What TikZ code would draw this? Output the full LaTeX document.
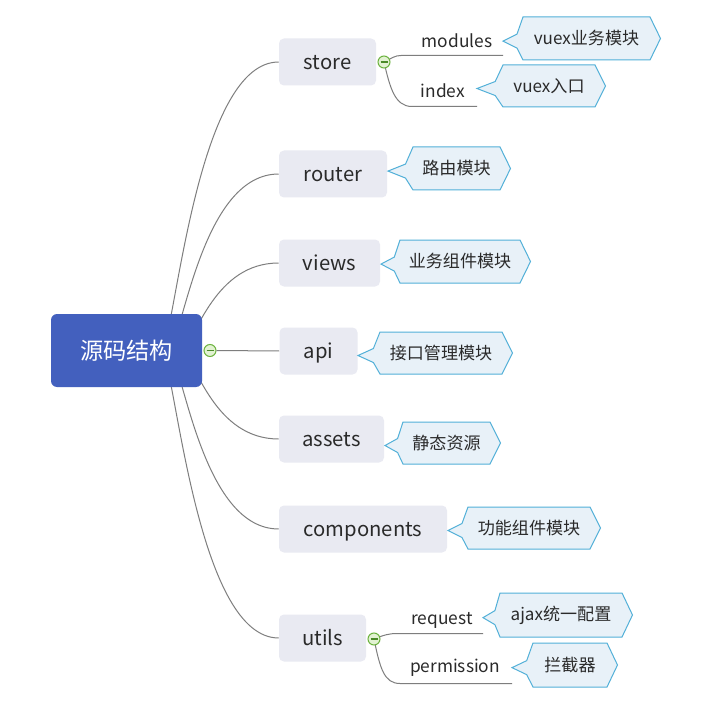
\documentclass[tikz,border=0pt]{standalone}
\usepackage{fontspec}
\setmainfont{Noto Sans CJK SC}
\usetikzlibrary{calc,backgrounds}
\pgfdeclarelayer{paper}
\pgfsetlayers{paper,background,main}
\definecolor{rootblue}{HTML}{4360BE}
\definecolor{childfill}{HTML}{E9EAF2}
\definecolor{callfill}{HTML}{E8F1F8}
\definecolor{calldraw}{HTML}{52B0D8}
\definecolor{linegray}{HTML}{7E7E7E}
\definecolor{txt}{HTML}{2A2A2A}
\definecolor{tggreen}{HTML}{6CB33F}
\definecolor{tgfill}{HTML}{E2F2D2}
\definecolor{tgdark}{HTML}{4A8A28}
\tikzset{
  rootbox/.style={fill=rootblue, rounded corners=4.5pt, minimum width=113.25pt, minimum height=54.75pt, text=white, font=\fontsize{17.4pt}{20pt}\selectfont, inner sep=0pt},
  childbox/.style={fill=childfill, rounded corners=3.75pt, minimum height=35.25pt, text=txt, font=\fontsize{15.2pt}{17pt}\selectfont, inner sep=0pt, text height=12.5pt, text depth=1.5pt},
  branch/.style={draw=linegray, line width=0.75pt},
  callshape/.style={draw=calldraw, fill=callfill, line width=0.75pt, line join=miter},
  calltext/.style={text=txt, font=\fontsize{12.8pt}{15pt}\selectfont, inner sep=0pt},
  sublabel/.style={text=txt, font=\fontsize{13pt}{15pt}\selectfont, inner sep=0pt},
  toggle/.style={circle, draw=tggreen, fill=tgfill, line width=0.75pt, minimum size=9pt, inner sep=0pt},
  minusbar/.style={draw=tgdark, line width=0.8pt},
}
\newcommand\mkcallout[7]{%
  \pgfmathsetmacro\cmid{#4+0.56*(#5-#4)}%
  \pgfmathsetmacro\cnx{#2-0.3*(#2-#6)}%
  \pgfmathsetmacro\cym{(#4+#5)/2}%
  \draw[callshape] (#2,#4) -- (\cnx,\cmid-7) -- (#6,\cmid) -- (\cnx,\cmid+7) -- (#2,#5) -- (#3,#5) -- (#3+10.5,\cym) -- (#3,#4) -- cycle;
  \node[calltext] (#1) at ({(#2+#3)/2},\cym) {#7};
}
\begin{document}
\begin{tikzpicture}[x=0.75pt,y=-0.75pt]
\useasboundingbox (0,0) rectangle (715,710);
\begin{pgfonlayer}{paper}
\fill[white] (0,0) rectangle (715,710);
\end{pgfonlayer}

% root and children
\node[rootbox] (root) at (126.5,350.5) {源码结构};
\node[childbox, minimum width=72.75pt] (store) at (327.5,62) {store};
\node[childbox, minimum width=81pt] (router) at (333,174) {router};
\node[childbox, minimum width=75.75pt] (views) at (329.5,263) {views};
\node[childbox, minimum width=58.5pt] (api) at (318.5,351) {api};
\node[childbox, minimum width=78.75pt] (assets) at (331.5,439) {assets};
\node[childbox, minimum width=126pt] (components) at (363,529) {components};
\node[childbox, minimum width=65.25pt] (utils) at (322.5,638) {utils};

% main branches (behind the root)
\begin{scope}[on background layer]
\draw[branch] ($(root.center)+(36.5,0)$) .. controls (178,307) and (200,62) .. (store.west);
\draw[branch] ($(root.center)+(43.5,0)$) .. controls (185,323.5) and (205,174) .. (router.west);
\draw[branch] ($(root.center)+(55.5,0)$) .. controls (197,337) and (215,263) .. (views.west);
\draw[branch] ($(root.center)+(55.5,0)$) .. controls (197,364) and (215,439) .. (assets.west);
\draw[branch] ($(root.center)+(43.5,0)$) .. controls (185,377.5) and (205,529) .. (components.west);
\draw[branch] ($(root.center)+(36.5,0)$) .. controls (178,393.5) and (200,638) .. (utils.west);
\end{scope}

% root toggle and api link
\node[toggle] (tgr) at (210,350.5) {};
\draw[branch] (tgr.east) -- (api.west);
\draw[minusbar] ($(tgr.center)+(-3.5,0)$) -- ($(tgr.center)+(3.5,0)$);

% store sub-branches
\node[toggle] (tgs) at (384,62) {};
\draw[minusbar] ($(tgs.center)+(-3.5,0)$) -- ($(tgs.center)+(3.5,0)$);
\node[sublabel] (lmod) at (457,41) {modules};
\node[sublabel] (lidx) at (443,91) {index};
\coordinate (modA) at (401,55.5);
\coordinate (modB) at (503,55.5);
\coordinate (idxA) at (412,106.5);
\coordinate (idxB) at (477,106.5);
\begin{scope}[on background layer]
\draw[branch] (tgs.center) .. controls (392,58) and (395,55.5) .. (modA) -- (modB);
\draw[branch] (tgs.center) .. controls (390,88) and (395,106.5) .. (idxA) -- (idxB);
\end{scope}

% utils sub-branches
\node[toggle] (tgu) at (374,639) {};
\draw[minusbar] ($(tgu.center)+(-3.5,0)$) -- ($(tgu.center)+(3.5,0)$);
\node[sublabel] (lreq) at (442,620) {request};
\node[sublabel] (lper) at (455,668) {permission};
\coordinate (reqA) at (397,633.5);
\coordinate (reqB) at (483,633.5);
\coordinate (perA) at (400,683.5);
\coordinate (perB) at (512,683.5);
\begin{scope}[on background layer]
\draw[branch] (tgu.center) .. controls (384,635) and (389,633.5) .. (reqA) -- (reqB);
\draw[branch] (tgu.center) .. controls (380,668) and (384,683.5) .. (perA) -- (perB);
\end{scope}

% callouts
\mkcallout{cmod}{523}{650}{17}{60}{503}{vuex业务模块}
\mkcallout{cidx}{503}{595}{65}{107}{477}{vuex入口}
\mkcallout{crou}{413}{500}{147}{190}{388}{路由模块}
\mkcallout{cvie}{400}{520}{240}{283}{381}{业务组件模块}
\mkcallout{capi}{380}{502}{332}{374}{358}{接口管理模块}
\mkcallout{cass}{403}{490}{422}{464}{385}{静态资源}
\mkcallout{ccom}{468}{590}{507}{549}{448}{功能组件模块}
\mkcallout{creq}{500}{622}{593}{637}{483}{ajax统一配置}
\mkcallout{cper}{533}{607}{643}{687}{512}{拦截器}
\end{tikzpicture}
\end{document}
